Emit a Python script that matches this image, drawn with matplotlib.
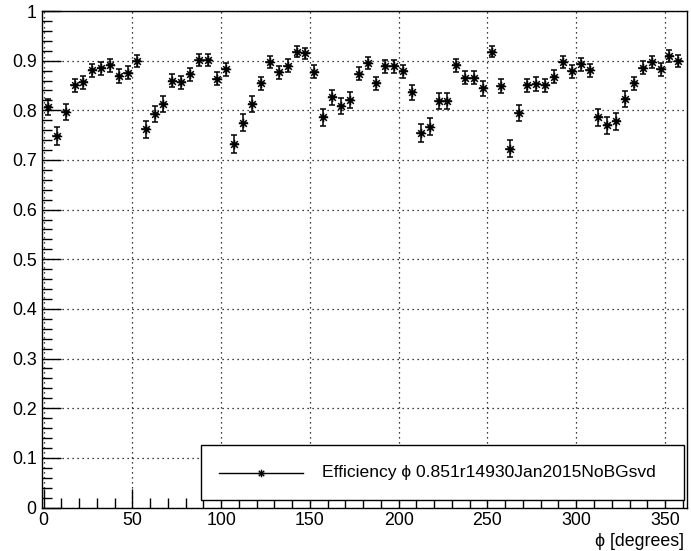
import numpy as np
import matplotlib
matplotlib.use("Agg")
import matplotlib.pyplot as plt
from matplotlib.path import Path
from matplotlib.patches import Rectangle
from matplotlib.lines import Line2D
from matplotlib.ticker import MultipleLocator

plt.rcParams['font.family'] = ['Liberation Sans', 'DejaVu Sans']

# phi bins of 5 degrees, efficiency per bin and its uncertainty
phi_centers = np.arange(2.5, 360, 5.0)
phi_halfwidth = 2.5
efficiency = [
    0.807, 0.748, 0.797, 0.850, 0.856, 0.881, 0.885, 0.891, 0.869, 0.876,
    0.899, 0.762, 0.793, 0.813, 0.860, 0.856, 0.873, 0.901, 0.901, 0.864,
    0.883, 0.733, 0.775, 0.813, 0.854, 0.897, 0.877, 0.890, 0.918, 0.915,
    0.878, 0.786, 0.826, 0.809, 0.821, 0.874, 0.895, 0.854, 0.889, 0.889,
    0.879, 0.836, 0.754, 0.767, 0.819, 0.819, 0.891, 0.866, 0.866, 0.844,
    0.918, 0.849, 0.723, 0.795, 0.850, 0.853, 0.850, 0.868, 0.898, 0.879,
    0.893, 0.881, 0.786, 0.770, 0.778, 0.822, 0.854, 0.886, 0.898, 0.883,
    0.910, 0.899,
]
eff_err = [
    0.016, 0.018, 0.016, 0.014, 0.014, 0.013, 0.013, 0.013, 0.014, 0.013,
    0.012, 0.017, 0.016, 0.016, 0.014, 0.014, 0.013, 0.012, 0.012, 0.014,
    0.013, 0.018, 0.017, 0.016, 0.014, 0.012, 0.013, 0.013, 0.011, 0.011,
    0.013, 0.017, 0.015, 0.016, 0.016, 0.013, 0.012, 0.014, 0.013, 0.013,
    0.013, 0.015, 0.018, 0.017, 0.016, 0.016, 0.013, 0.014, 0.014, 0.015,
    0.011, 0.015, 0.018, 0.016, 0.014, 0.014, 0.014, 0.014, 0.012, 0.013,
    0.013, 0.013, 0.017, 0.017, 0.017, 0.016, 0.014, 0.013, 0.012, 0.013,
    0.012, 0.012,
]
legend_label = "Efficiency \u03d5 0.851r14930Jan2015NoBGsvd"
x_label = "\u03d5 [degrees]"

# asterisk marker: horizontal, vertical and two diagonal strokes
d = 0.7071
asterisk = Path(
    [(-1, 0), (1, 0), (0, -1), (0, 1), (-d, -d), (d, d), (-d, d), (d, -d)],
    [Path.MOVETO, Path.LINETO] * 4,
)

W, H = 691, 551
fig = plt.figure(figsize=(W / 100, H / 100), dpi=100)
ax = fig.add_axes([42.3 / W, 1 - 507.5 / H, (686.5 - 42.3) / W, (507.5 - 11) / H])

ax.errorbar(phi_centers, efficiency, yerr=eff_err, fmt='none', ecolor='black',
            elinewidth=1.1, capsize=2.0, capthick=1.1, zorder=3)
ax.errorbar(phi_centers, efficiency, xerr=phi_halfwidth, fmt='none', ecolor='black',
            elinewidth=1.1, capsize=0, zorder=3)
ax.plot(phi_centers, efficiency, linestyle='none', marker=asterisk,
        markersize=6.8, markeredgewidth=1.1, color='black', zorder=4)

ax.set_xlim(-0.7, 362.1)
ax.set_ylim(0, 1)

ax.xaxis.set_major_locator(MultipleLocator(50))
ax.xaxis.set_minor_locator(MultipleLocator(10))
ax.yaxis.set_major_locator(MultipleLocator(0.1))
ax.yaxis.set_minor_locator(MultipleLocator(0.02))
ax.set_yticks(np.arange(0, 1.01, 0.1))
ax.set_yticklabels(['0', '0.1', '0.2', '0.3', '0.4', '0.5', '0.6', '0.7', '0.8', '0.9', '1'])

ax.tick_params(axis='both', which='both', direction='in', top=False, right=False,
               width=1.0, labelsize=12.8, colors='black')
ax.tick_params(axis='x', which='major', length=14, pad=3)
ax.tick_params(axis='x', which='minor', length=7)
ax.tick_params(axis='y', which='major', length=14, pad=4)
ax.tick_params(axis='y', which='minor', length=7)

ax.grid(True, which='major', color='black', linestyle=(0, (1, 3)), linewidth=0.9)
ax.set_axisbelow(True)
for sp in ax.spines.values():
    sp.set_linewidth(1.0)
    sp.set_color('black')

fig.text(684 / W, 1 - 541 / H, x_label, ha='right', va='center', fontsize=12.8)

# legend box drawn in figure pixel space
tf = fig.transFigure
fig.patches.append(Rectangle((201 / W, 1 - 500 / H), (684 - 201) / W, (500 - 445) / H,
                             transform=tf, facecolor='white', edgecolor='black',
                             linewidth=1.0, zorder=5))
fig.lines.append(Line2D([219 / W, 303 / W], [1 - 473 / H, 1 - 473 / H], transform=tf,
                        color='black', linewidth=1.0, zorder=6))
fig.lines.append(Line2D([261 / W], [1 - 473 / H], transform=tf, marker=asterisk,
                        markersize=5.5, markeredgewidth=1.0, color='black',
                        linestyle='none', zorder=6))
fig.text(321.5 / W, 1 - 473 / H, legend_label, ha='left', va='center',
         fontsize=12.6, zorder=7)

fig.savefig('out.png', dpi=100)
